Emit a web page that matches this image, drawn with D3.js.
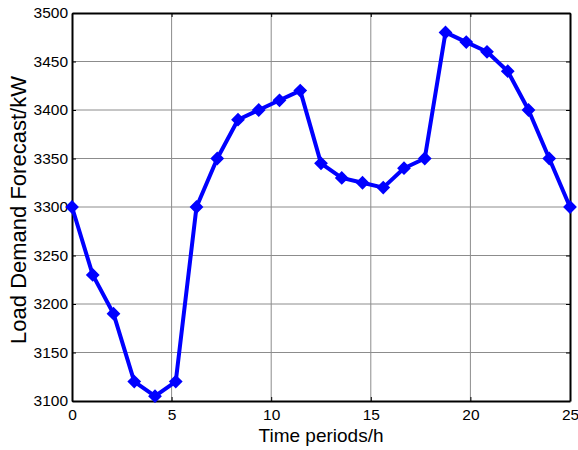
<!DOCTYPE html>
<html>
<head>
<meta charset="utf-8">
<script src="https://cdn.jsdelivr.net/npm/d3@7"></script>
<style>
  body { margin: 0; background: #fff; }
  text { font-family: "Liberation Sans", Arial, sans-serif; fill: #000; }
</style>
</head>
<body>
<div id="chart"></div>
<script>
// load forecast, 25 samples spread over 0..25 h
const periods = d3.range(25).map((i) => (i * 25) / 24);
const loadValues = [
  3300, 3230, 3190, 3120, 3105, 3120, 3300, 3350, 3390, 3400, 3410, 3420,
  3345, 3330, 3325, 3320, 3340, 3350, 3480, 3470, 3460, 3440, 3400, 3350, 3300,
];
const xTicks = [0, 5, 10, 15, 20, 25];
const yTicks = [3100, 3150, 3200, 3250, 3300, 3350, 3400, 3450, 3500];

// set the dimensions and margins of the graph
const margin = { top: 13, right: 8, bottom: 49, left: 72 },
  width = 578 - margin.left - margin.right,
  height = 450 - margin.top - margin.bottom;

const svg = d3
  .select("#chart")
  .append("svg")
  .attr("width", 578)
  .attr("height", 450)
  .append("g")
  .attr("transform", `translate(${margin.left},${margin.top})`);

const x = d3.scaleLinear().domain([0, 25]).range([0, width]);
const y = d3.scaleLinear().domain([3100, 3500]).range([height, 0]);

// grid
svg
  .append("g")
  .selectAll("line")
  .data(xTicks.slice(1, -1))
  .join("line")
  .attr("x1", (d) => x(d))
  .attr("x2", (d) => x(d))
  .attr("y1", 0)
  .attr("y2", height)
  .attr("stroke", "#8c8c8c")
  .attr("stroke-width", 1);
svg
  .append("g")
  .selectAll("line")
  .data(yTicks.slice(1, -1))
  .join("line")
  .attr("x1", 0)
  .attr("x2", width)
  .attr("y1", (d) => y(d))
  .attr("y2", (d) => y(d))
  .attr("stroke", "#8c8c8c")
  .attr("stroke-width", 1);

// axes (ticks pointing inward)
const fmt = d3.format("d");
const bottomAxis = svg
  .append("g")
  .attr("transform", `translate(0,${height})`)
  .call(d3.axisBottom(x).tickValues(xTicks).tickFormat(fmt).tickSizeInner(-4).tickSizeOuter(0).tickPadding(8));
const leftAxis = svg
  .append("g")
  .call(d3.axisLeft(y).tickValues(yTicks).tickFormat(fmt).tickSizeInner(-4).tickSizeOuter(0).tickPadding(4));
const topAxis = svg
  .append("g")
  .call(d3.axisTop(x).tickValues(xTicks).tickSizeInner(-4).tickSizeOuter(0).tickFormat(""));
const rightAxis = svg
  .append("g")
  .attr("transform", `translate(${width},0)`)
  .call(d3.axisRight(y).tickValues(yTicks).tickSizeInner(-4).tickSizeOuter(0).tickFormat(""));

[bottomAxis, leftAxis, topAxis, rightAxis].forEach((a) => {
  a.select(".domain").attr("stroke", "#000").attr("stroke-width", 2);
  a.selectAll(".tick line").attr("stroke", "#000");
  a.selectAll(".tick text").style("font-size", "15.5px").attr("fill", "#000");
});

// the line
svg
  .append("path")
  .datum(loadValues)
  .attr("fill", "none")
  .attr("stroke", "#0000ff")
  .attr("stroke-width", 4)
  .attr("stroke-linejoin", "round")
  .attr(
    "d",
    d3
      .line()
      .x((d, i) => x(periods[i]))
      .y((d) => y(d))
  );

// diamond markers
svg
  .selectAll(".marker")
  .data(loadValues)
  .join("path")
  .attr("class", "marker")
  .attr("d", d3.symbol(d3.symbolSquare, 60)())
  .attr("transform", (d, i) => `translate(${x(periods[i])},${y(d)}) rotate(45)`)
  .attr("fill", "#0000ff")
  .attr("stroke", "#0000ff")
  .attr("stroke-width", 2);

// labels
svg
  .append("text")
  .attr("x", width / 2)
  .attr("y", height + 41)
  .attr("text-anchor", "middle")
  .style("font-size", "19px")
  .text("Time periods/h");

svg
  .append("text")
  .attr("transform", `translate(${-margin.left + 26},${height / 2 + 3}) rotate(-90)`)
  .attr("text-anchor", "middle")
  .style("font-size", "22px")
  .text("Load Demand Forecast/kW");
</script>
</body>
</html>
